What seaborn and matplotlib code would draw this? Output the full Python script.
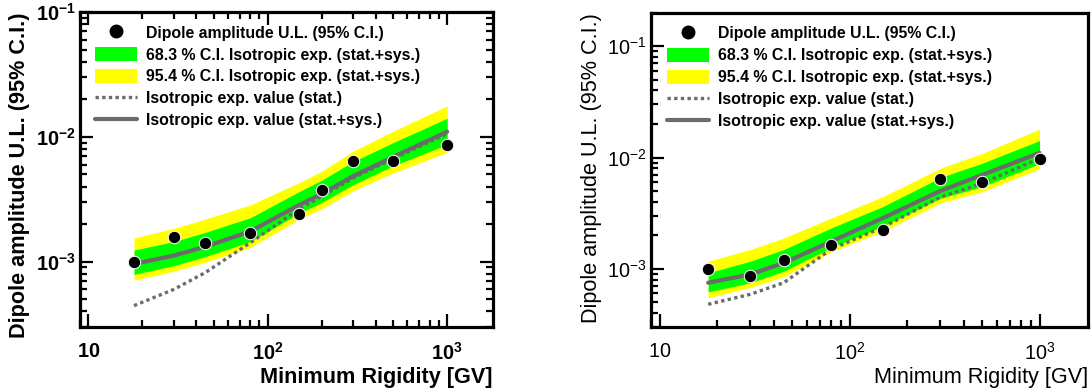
import numpy as np
import pandas as pd
import matplotlib
matplotlib.use("Agg")
import matplotlib.pyplot as plt
import seaborn as sns
from matplotlib.lines import Line2D
from matplotlib.patches import Patch
from matplotlib.ticker import LogLocator, FuncFormatter, NullFormatter

# ---------------- data ----------------
left_rig = [18, 30, 45, 80, 150, 200, 300, 500, 1000]
left_ul = [1.0e-3, 1.58e-3, 1.40e-3, 1.71e-3, 2.43e-3, 3.77e-3, 6.39e-3, 6.39e-3, 8.58e-3]
left_med = [0.96e-3, 1.12e-3, 1.32e-3, 1.75e-3, 2.85e-3, 3.5e-3, 4.85e-3, 6.9e-3, 1.10e-2]
left_y_hi = [1.55e-3, 1.85e-3, 2.20e-3, 2.85e-3, 4.30e-3, 5.3e-3, 7.7e-3, 1.11e-2, 1.77e-2]
left_g_hi = [1.24e-3, 1.45e-3, 1.72e-3, 2.25e-3, 3.65e-3, 4.5e-3, 6.35e-3, 9.0e-3, 1.41e-2]
left_g_lo = [0.79e-3, 0.93e-3, 1.10e-3, 1.45e-3, 2.45e-3, 2.98e-3, 4.15e-3, 5.85e-3, 8.7e-3]
left_y_lo = [0.71e-3, 0.84e-3, 0.99e-3, 1.30e-3, 2.20e-3, 2.65e-3, 3.7e-3, 5.15e-3, 7.5e-3]
left_stat = [0.445e-3, 0.60e-3, 0.82e-3, 1.42e-3, 2.65e-3, 3.35e-3, 4.7e-3, 6.7e-3, 1.06e-2]

right_rig = [18, 30, 45, 80, 150, 300, 500, 1000]
right_ul = [1.0e-3, 0.87e-3, 1.19e-3, 1.65e-3, 2.21e-3, 6.36e-3, 6.05e-3, 9.7e-3]
right_med = [0.75e-3, 0.89e-3, 1.13e-3, 1.76e-3, 2.86e-3, 5.0e-3, 6.98e-3, 1.10e-2]
right_y_hi = [1.17e-3, 1.49e-3, 1.89e-3, 2.86e-3, 4.46e-3, 8.0e-3, 1.09e-2, 1.80e-2]
right_g_hi = [0.92e-3, 1.17e-3, 1.49e-3, 2.33e-3, 3.63e-3, 6.6e-3, 8.9e-3, 1.42e-2]
right_g_lo = [0.62e-3, 0.75e-3, 0.95e-3, 1.55e-3, 2.41e-3, 4.3e-3, 5.47e-3, 8.8e-3]
right_y_lo = [0.55e-3, 0.68e-3, 0.85e-3, 1.42e-3, 2.17e-3, 3.9e-3, 4.94e-3, 7.9e-3]
right_stat = [0.48e-3, 0.59e-3, 0.75e-3, 1.50e-3, 2.37e-3, 4.4e-3, 5.87e-3, 9.8e-3]

legend_labels = [
    "Dipole amplitude U.L. (95% C.I.)",
    "68.3 % C.I. Isotropic exp. (stat.+sys.)",
    "95.4 % C.I. Isotropic exp. (stat.+sys.)",
    "Isotropic exp. value (stat.)",
    "Isotropic exp. value (stat.+sys.)",
]
xlabel = "Minimum Rigidity [GV]"
ylabel = "Dipole amplitude U.L. (95% C.I.)"

# ---------------- style ----------------
sns.set_theme(style="ticks")
plt.rcParams["font.family"] = ["Liberation Sans", "DejaVu Sans"]
plt.rcParams["xtick.direction"] = "in"
plt.rcParams["ytick.direction"] = "in"
plt.rcParams["axes.axisbelow"] = False
plt.rcParams["mathtext.fontset"] = "custom"
plt.rcParams["mathtext.rm"] = "Liberation Sans"
plt.rcParams["mathtext.bf"] = "Liberation Sans:bold"

GREEN = "#00ff00"
YELLOW = "#ffff00"
GRAY = "#6b6b6b"

fig = plt.figure(figsize=(10.91, 3.89), dpi=100)
W, H = 1091, 389
axL = fig.add_axes([80 / W, 1 - 327 / H, 413 / W, 315 / H])
axR = fig.add_axes([651 / W, 1 - 327 / H, 437 / W, 314.3 / H])


def style_ticks(ax, mirror):
    ax.tick_params(which="both", direction="in", color="black", width=1.6,
                   bottom=True, left=True, top=mirror, right=mirror)
    ax.tick_params(which="major", length=9.5)
    ax.tick_params(which="minor", length=5)
    ax.tick_params(axis="x", which="major", pad=11, labelsize=14.3, labelcolor="black")
    ax.tick_params(axis="y", which="major", pad=3, labelsize=14.3, labelcolor="black")


def draw(ax, rig, ul, med, yhi, ghi, glo, ylo, stat, bold, ylim, mirror):
    wt = "bold" if bold else "normal"
    ax.set_xscale("log")
    ax.set_yscale("log")
    ax.fill_between(rig, ylo, yhi, color=YELLOW, lw=0, zorder=1)
    ax.fill_between(rig, glo, ghi, color=GREEN, lw=0, zorder=1)
    sns.lineplot(x=rig, y=stat, ax=ax, color=GRAY, lw=2.4, zorder=3)
    ax.lines[-1].set_dashes((1, 1))
    sns.lineplot(x=rig, y=med, ax=ax, color=GRAY, lw=3.0, zorder=3)
    sns.scatterplot(x=rig, y=ul, ax=ax, color="black", s=80, legend=False, zorder=5)

    ax.xaxis.set_major_locator(LogLocator(base=10, numticks=10))
    ax.xaxis.set_minor_locator(LogLocator(base=10, subs=np.arange(2, 10), numticks=20))
    ax.yaxis.set_major_locator(LogLocator(base=10, numticks=10))
    ax.yaxis.set_minor_locator(LogLocator(base=10, subs=np.arange(2, 10), numticks=20))

    def xfmt(v, pos):
        e = int(round(np.log10(v)))
        if e == 1:
            return r"$\mathbf{10}$" if bold else r"$\mathrm{10}$"
        return (r"$\mathbf{10^{%d}}$" if bold else r"$\mathrm{10^{%d}}$") % e

    def yfmt(v, pos):
        e = int(round(np.log10(v)))
        return (r"$\mathbf{10^{%d}}$" if bold else r"$\mathrm{10^{%d}}$") % e

    ax.xaxis.set_major_formatter(FuncFormatter(xfmt))
    ax.yaxis.set_major_formatter(FuncFormatter(yfmt))
    ax.xaxis.set_minor_formatter(NullFormatter())
    ax.yaxis.set_minor_formatter(NullFormatter())
    ax.set_xlim(9, 1800)
    ax.set_ylim(*ylim)

    for s in ax.spines.values():
        s.set_linewidth(2.3)
        s.set_color("black")

    ax.set_xlabel(xlabel, loc="right", fontsize=15.6, fontweight=wt, labelpad=2,
                  color="black")
    ax.set_ylabel(ylabel, loc="top", fontsize=15.6, fontweight=wt, labelpad=4,
                  color="black")

    handles = [
        Line2D([], [], ls="none", marker="o", color="black", markersize=9),
        Patch(facecolor=GREEN, edgecolor="none"),
        Patch(facecolor=YELLOW, edgecolor="none"),
        Line2D([], [], color=GRAY, lw=2.4, dashes=(1, 1)),
        Line2D([], [], color=GRAY, lw=3.0),
    ]
    leg = ax.legend(handles, legend_labels, loc="upper left",
                    bbox_to_anchor=(0.036, 0.958),
                    frameon=False, prop={"weight": "bold", "size": 11.4},
                    handlelength=2.65, handleheight=1.0, handletextpad=0.6,
                    labelspacing=0.4, borderaxespad=0, borderpad=0)
    for t in leg.get_texts():
        t.set_color("black")
    style_ticks(ax, mirror)
    ax.xaxis.set_zorder(6)
    ax.yaxis.set_zorder(6)


draw(axL, left_rig, left_ul, left_med, left_y_hi, left_g_hi, left_g_lo, left_y_lo,
     left_stat, True, (3e-4, 0.1), True)
draw(axR, right_rig, right_ul, right_med, right_y_hi, right_g_hi, right_g_lo, right_y_lo,
     right_stat, False, (3e-4, 0.2), False)

# make sure every tick mark is drawn as a visible black inward mark
fig.canvas.draw()
for ax, mirror in ((axL, True), (axR, False)):
    for axis in (ax.xaxis, ax.yaxis):
        for ticks, size in ((axis.get_major_ticks(), 9.5), (axis.get_minor_ticks(), 5)):
            for tk in ticks:
                for ln, on in ((tk.tick1line, True), (tk.tick2line, mirror)):
                    ln.set_visible(on)
                    ln.set_markersize(size)
                    ln.set_markeredgewidth(1.6)
                    ln.set_color("black")
                    ln.set_markeredgecolor("black")
                    ln.set_alpha(1)
                    ln.set_zorder(6)

fig.savefig("out.png", dpi=100)
